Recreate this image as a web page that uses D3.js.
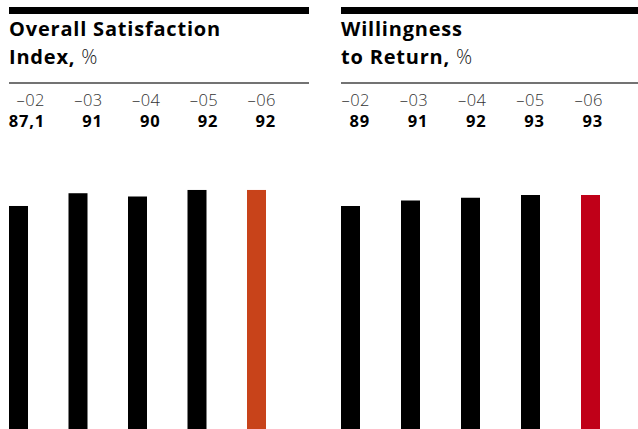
<!DOCTYPE html>
<html>
<head>
<meta charset="utf-8">
<script src="https://cdn.jsdelivr.net/npm/d3@7"></script>
<style>
  body { margin: 0; background: #fff; }
  svg { display: block; }
</style>
</head>
<body>
<svg width="638" height="429"></svg>
<script>
const years = ['-02', '-03', '-04', '-05', '-06'];
const satisfaction = [87.1, 91, 90, 92, 92];
const willingness = [89, 91, 92, 93, 93];
const valueLabelsLeft = ['87,1', '91', '90', '92', '92'];
const valueLabelsRight = ['89', '91', '92', '93', '93'];

const svg = d3.select('svg');
const width = +svg.attr('width');
const height = +svg.attr('height');

const font = '"Open Sans", "Noto Sans", sans-serif';

// one panel per indicator
const panels = [
  {title: ['Overall Satisfaction', 'Index,'], values: satisfaction, labels: valueLabelsLeft,
   x0: 9, x1: 309, barRange: [9, 247], labelRange: [45, 276], yRange: [490.8, 163.8], accent: '#c8431a'},
  {title: ['Willingness', 'to Return,'], values: willingness, labels: valueLabelsRight,
   x0: 341, x1: 638, barRange: [341, 581], labelRange: [370, 603], yRange: [450.75, 175.75], accent: '#c00018'}
];

const barWidth = 19;

panels.forEach(p => {
  const g = svg.append('g');

  //thick rule on top
  g.append('rect')
    .attr('x', p.x0).attr('y', 7)
    .attr('width', p.x1 - p.x0).attr('height', 7)
    .attr('fill', '#000');

  //title, two lines
  g.append('text')
    .attr('x', p.x0).attr('y', 36)
    .attr('font-family', font).attr('font-size', 20).attr('font-weight', 700)
    .attr('letter-spacing', 0.8)
    .text(p.title[0]);
  const t2 = g.append('text')
    .attr('x', p.x0).attr('y', 63.5)
    .attr('font-family', font).attr('font-size', 20).attr('font-weight', 700)
    .attr('letter-spacing', 0.8);
  t2.append('tspan').text(p.title[1]);
  t2.append('tspan').attr('font-weight', 300).attr('fill', '#222').text(' %');

  //thin rule
  g.append('line')
    .attr('x1', p.x0).attr('x2', p.x1)
    .attr('y1', 83).attr('y2', 83)
    .attr('stroke', '#444').attr('stroke-width', 1.5);

  const xBar = d3.scalePoint().domain(years).range(p.barRange);
  const xLabel = d3.scalePoint().domain(years).range(p.labelRange);
  const yScale = d3.scaleLinear().domain([0, 100]).range(p.yRange);

  //year labels
  g.selectAll('text.year')
    .data(years)
    .enter()
    .append('text')
    .attr('class', 'year')
    .attr('x', d => xLabel(d))
    .attr('y', 106)
    .attr('text-anchor', 'end')
    .attr('font-family', font).attr('font-size', 16.5).attr('font-weight', 300)
    .attr('letter-spacing', 0.5)
    .attr('fill', '#333')
    .text(d => d.replace('-', '\u2013'));

  //value labels
  g.selectAll('text.val')
    .data(p.labels)
    .enter()
    .append('text')
    .attr('class', 'val')
    .attr('x', (d, i) => xLabel(years[i]))
    .attr('y', 127)
    .attr('text-anchor', 'end')
    .attr('font-family', font).attr('font-size', 16.5).attr('font-weight', 700)
    .attr('letter-spacing', 0.8)
    .attr('fill', '#000')
    .text(d => d);

  //bars, running off the bottom edge
  g.selectAll('rect.bar')
    .data(p.values)
    .enter()
    .append('rect')
    .attr('class', 'bar')
    .attr('x', (d, i) => xBar(years[i]))
    .attr('y', d => yScale(d))
    .attr('width', barWidth)
    .attr('height', d => yScale(0) - yScale(d))
    .attr('fill', (d, i) => i === years.length - 1 ? p.accent : '#000');
});
</script>
</body>
</html>
